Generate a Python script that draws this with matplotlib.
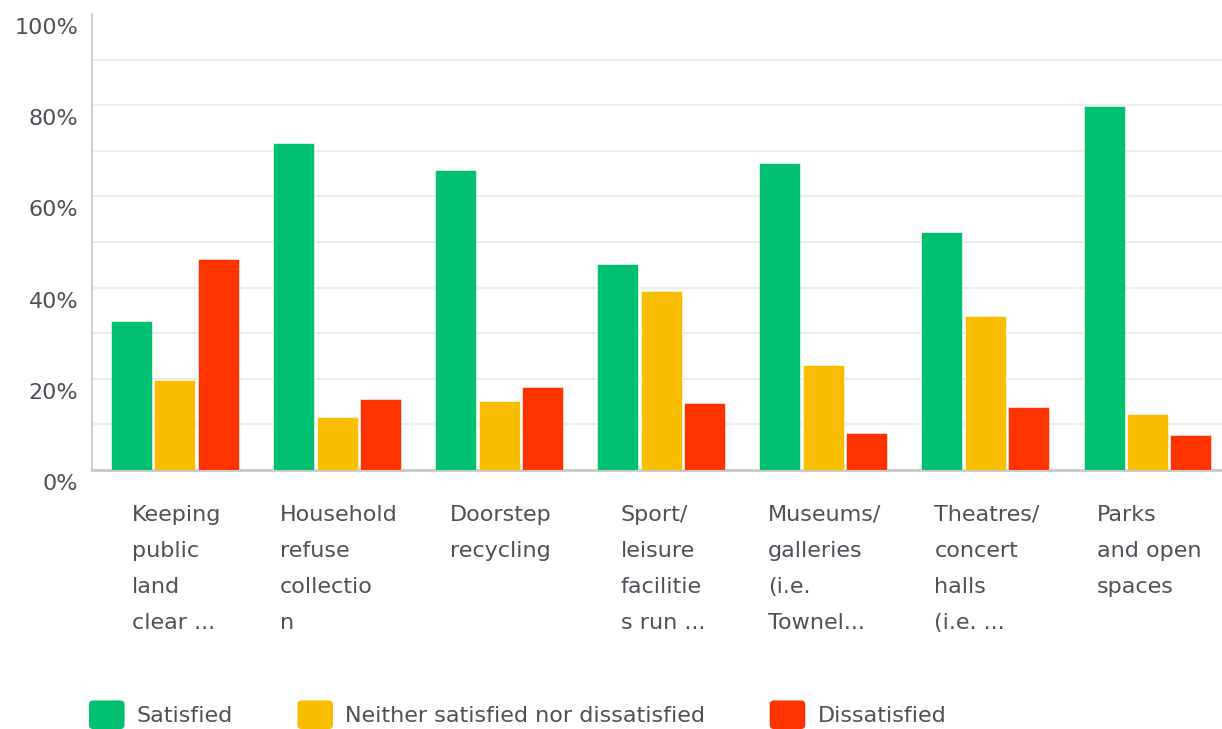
import numpy as np
import matplotlib.pyplot as plt
from matplotlib.patches import Patch, FancyBboxPatch
from matplotlib.legend_handler import HandlerPatch
from matplotlib.transforms import ScaledTranslation

# Survey results (% of respondents)
categories = [
    "Keeping\npublic\nland\nclear ...",
    "Household\nrefuse\ncollectio\nn",
    "Doorstep\nrecycling",
    "Sport/\nleisure\nfacilitie\ns run ...",
    "Museums/\ngalleries\n(i.e.\nTownel...",
    "Theatres/\nconcert\nhalls\n(i.e. ...",
    "Parks\nand open\nspaces",
]
series_names = ["Satisfied", "Neither satisfied nor dissatisfied", "Dissatisfied"]
satisfied = [32.7, 71.8, 65.8, 45.2, 67.3, 52.2, 79.8]
neither = [19.7, 11.6, 15.1, 39.2, 23.1, 33.8, 12.2]
dissatisfied = [46.2, 15.6, 18.2, 14.7, 8.1, 13.8, 7.6]
ytick_labels = ["0%", "20%", "40%", "60%", "80%", "100%"]

colors = ["#00bf6f", "#f9be00", "#ff3300"]
text_color = "#4b5157"

plt.rcParams["font.family"] = "DejaVu Sans"

fig = plt.figure(figsize=(12.22, 7.29), dpi=100)
ax = fig.add_axes([92 / 1222, 1 - 470 / 729, 1 - 92 / 1222, (470 - 14) / 729])

x = np.arange(len(categories))
width = 0.253
offsets = [-0.268, 0.0, 0.268]
values = [satisfied, neither, dissatisfied]

for vals, off, col, name in zip(values, offsets, colors, series_names):
    ax.bar(x + off, vals, width, color=col, label=name, zorder=3,
           edgecolor="white", linewidth=0.4)

ax.set_xlim(-0.512, 6.46)
ax.set_ylim(0, 100)

# light grid every 10% (none at the top edge)
for level in range(10, 100, 10):
    ax.axhline(level, color="#ededed", linewidth=1.5, zorder=0)

ax.set_yticks(np.arange(0, 101, 20))
ax.set_yticklabels(ytick_labels)
ax.tick_params(axis="y", length=0, pad=10, labelsize=16, labelcolor=text_color)

shift = ScaledTranslation(0, -12 / 100, fig.dpi_scale_trans)
for lbl in ax.get_yticklabels():
    lbl.set_transform(lbl.get_transform() + shift)

ax.set_xticks(x + 0.01)
ax.set_xticklabels(categories, multialignment="left", linespacing=2.0,
                   va="top", fontsize=16, color=text_color)
ax.tick_params(axis="x", length=0, pad=25)

for side in ["top", "right"]:
    ax.spines[side].set_visible(False)
ax.spines["left"].set_color("#d0d0d0")
ax.spines["left"].set_linewidth(1.5)
ax.spines["bottom"].set_color("#c8c8c8")
ax.spines["bottom"].set_linewidth(2)


class RoundSquare(HandlerPatch):
    def create_artists(self, legend, orig_handle, xdescent, ydescent,
                       width, height, fontsize, trans):
        p = FancyBboxPatch((-xdescent, -ydescent), width, height,
                           boxstyle="round,pad=0,rounding_size=3",
                           facecolor=orig_handle.get_facecolor(),
                           edgecolor="none", transform=trans)
        return [p]


handles = [Patch(facecolor=c, label=n) for c, n in zip(colors, series_names)]
leg = fig.legend(handles=handles, loc="lower left",
                 bbox_to_anchor=(89 / 1222, 0.0), ncol=3, frameon=False,
                 fontsize=16, handlelength=1.6, handleheight=1.6,
                 handletextpad=0.55, columnspacing=2.9, borderpad=0,
                 borderaxespad=0,
                 handler_map={Patch: RoundSquare()})
for t in leg.get_texts():
    t.set_color(text_color)

fig.savefig("out.png", dpi=100)
